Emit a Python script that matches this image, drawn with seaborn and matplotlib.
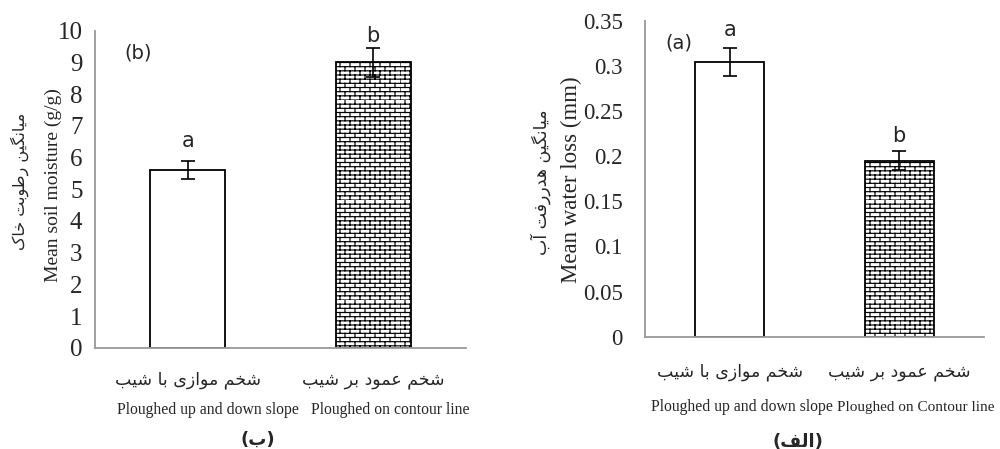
import warnings
warnings.filterwarnings("ignore")
import numpy as np
import pandas as pd
import matplotlib
matplotlib.use("Agg")
import matplotlib.pyplot as plt
import matplotlib.hatch as mhatch
from matplotlib.path import Path
import seaborn as sns

# ---------------- data ----------------
cat_fa = ["شخم موازی با شیب", "شخم عمود بر شیب"]
moist_vals = [5.6, 9.0]
moist_err = [0.28, 0.46]
moist_letters = ["a", "b"]
loss_vals = [0.304, 0.195]
loss_err = [0.0155, 0.0103]
loss_letters = ["a", "b"]
moist_ticks = [0, 1, 2, 3, 4, 5, 6, 7, 8, 9, 10]
loss_ticks = [0, 0.05, 0.1, 0.15, 0.2, 0.25, 0.3, 0.35]
moist_ylabel_en = "Mean soil moisture (g/g)"
moist_ylabel_fa = "میانگین رطوبت خاک"
loss_ylabel_en = "Mean water loss (mm)"
loss_ylabel_fa = "میانگین هدررفت آب"
en_left = ["Ploughed up and down slope", "Ploughed on contour line"]
en_right = ["Ploughed up and down slope", "Ploughed on Contour line"]
cap_left = "ب"
cap_right = "الف"

# ---------------- Persian shaping ----------------
FORMS = {  # iso, fin, ini, med
    "ا": ("\uFE8D", "\uFE8E", None, None),
    "آ": ("\uFE81", "\uFE82", None, None),
    "ب": ("\uFE8F", "\uFE90", "\uFE91", "\uFE92"),
    "ت": ("\uFE95", "\uFE96", "\uFE97", "\uFE98"),
    "خ": ("\uFEA5", "\uFEA6", "\uFEA7", "\uFEA8"),
    "د": ("\uFEA9", "\uFEAA", None, None),
    "ر": ("\uFEAD", "\uFEAE", None, None),
    "ز": ("\uFEAF", "\uFEB0", None, None),
    "ش": ("\uFEB5", "\uFEB6", "\uFEB7", "\uFEB8"),
    "ط": ("\uFEC1", "\uFEC2", "\uFEC3", "\uFEC4"),
    "ع": ("\uFEC9", "\uFECA", "\uFECB", "\uFECC"),
    "ف": ("\uFED1", "\uFED2", "\uFED3", "\uFED4"),
    "ل": ("\uFEDD", "\uFEDE", "\uFEDF", "\uFEE0"),
    "م": ("\uFEE1", "\uFEE2", "\uFEE3", "\uFEE4"),
    "ن": ("\uFEE5", "\uFEE6", "\uFEE7", "\uFEE8"),
    "ه": ("\uFEE9", "\uFEEA", "\uFEEB", "\uFEEC"),
    "و": ("\uFEED", "\uFEEE", None, None),
    "ی": ("\uFBFC", "\uFBFD", "\uFBFE", "\uFBFF"),
    "ک": ("\uFB8E", "\uFB8F", "\uFB90", "\uFB91"),
    "گ": ("\uFB92", "\uFB93", "\uFB94", "\uFB95"),
}


def dual(c):
    return c in FORMS and FORMS[c][2] is not None


def shape(s):
    out = []
    for i, c in enumerate(s):
        if c not in FORMS:
            out.append(c)
            continue
        prev = s[i - 1] if i > 0 else ""
        nxt = s[i + 1] if i + 1 < len(s) else ""
        jp = dual(prev)
        jn = dual(c) and nxt in FORMS
        iso, fin, ini, med = FORMS[c]
        if jp and jn:
            out.append(med)
        elif jp:
            out.append(fin)
        elif jn:
            out.append(ini)
        else:
            out.append(iso)
    return "".join(out[::-1])


# ---------------- brick hatch ----------------
class BrickHatch(mhatch.HatchPatternBase):
    def __init__(self, hatch, density):
        self.on = hatch.count("b") > 0
        self.rows = 24
        self.cols = 10
        if self.on:
            self.num_vertices = 2 * self.rows + 2 * self.rows * self.cols
        else:
            self.num_vertices = 0

    def set_vertices_and_codes(self, vertices, codes):
        h = 1.0 / self.rows
        w = 1.0 / self.cols
        k = 0
        for i in range(self.rows):
            y = i * h
            vertices[k] = (0.0, y); codes[k] = Path.MOVETO; k += 1
            vertices[k] = (1.0, y); codes[k] = Path.LINETO; k += 1
        for i in range(self.rows):
            y0 = i * h
            off = 0.5 * w if i % 2 else 0.0
            for j in range(self.cols):
                x = j * w + off
                vertices[k] = (x, y0); codes[k] = Path.MOVETO; k += 1
                vertices[k] = (x, y0 + h); codes[k] = Path.LINETO; k += 1


mhatch._hatch_types.append(BrickHatch)

# ---------------- style ----------------
sns.set_style("white")
plt.rcParams["hatch.linewidth"] = 0.85
plt.rcParams["font.family"] = ["Liberation Serif", "DejaVu Sans"]
FA = ["DejaVu Sans"]
SPINE = "#999999"

fig = plt.figure(figsize=(10, 4.49), dpi=100)
axL = fig.add_axes([0.095, 0.2256, 0.371, 0.706])
axR = fig.add_axes([0.645, 0.2501, 0.339, 0.7038])


def panel(ax, vals, errs, letters, ticks, ylim, tag, tagpos, letter_off,
          xpad, ysize):
    df = pd.DataFrame({"cat": [shape(c) for c in cat_fa], "val": vals})
    sns.barplot(data=df, x="cat", y="val", ax=ax, color="white",
                edgecolor="black", linewidth=1.3, width=0.405,
                errorbar=None)
    bars = ax.patches
    bars[1].set_hatch("b")
    ax.errorbar(x=range(len(vals)), y=vals, yerr=errs, fmt="none",
                ecolor="black", elinewidth=1.2, capsize=5, capthick=1.2,
                zorder=5)
    for i, (v, e, l) in enumerate(zip(vals, errs, letters)):
        ax.annotate(l, (i, v + e), xytext=(0, letter_off[i]),
                    textcoords="offset points", ha="center", va="baseline",
                    fontsize=15, family=["DejaVu Sans"])
    ax.text(tagpos[0], tagpos[1], tag, transform=ax.transAxes,
            fontsize=14, family=["DejaVu Sans"], ha="center", va="center")
    ax.set_xlim(-0.5, 1.5)
    ax.set_ylim(*ylim)
    ax.set_yticks(ticks)
    ax.set_yticklabels([f"{t:g}" for t in ticks])
    ax.set_xticks([-0.5, 0.5, 1.5], minor=True)
    ax.tick_params(axis="x", which="major", length=0, pad=xpad)
    ax.tick_params(axis="x", which="minor", direction="in", length=5.5,
                   width=1.2, color=SPINE)
    ax.tick_params(axis="y", direction="in", length=4.5, width=1.2,
                   color=SPINE, labelsize=ysize)
    for lab in ax.get_xticklabels():
        lab.set_family(FA)
        lab.set_fontsize(12.5)
    for s in ["top", "right"]:
        ax.spines[s].set_visible(False)
    for s in ["left", "bottom"]:
        ax.spines[s].set_color(SPINE)
        ax.spines[s].set_linewidth(1.3)
    ax.set_xlabel("")
    ax.set_ylabel("")


panel(axL, moist_vals, moist_err, moist_letters, moist_ticks, (0, 10),
      "(b)", (0.115, 0.93), [10, 4], 17, 18)
panel(axR, loss_vals, loss_err, loss_letters, loss_ticks, (0, 0.35),
      "(a)", (0.1, 0.93), [9, 7], 19, 16.5)
axL.tick_params(axis="y", pad=9)
axR.tick_params(axis="y", pad=16)

# y labels
fig.text(0.053, 0.588, moist_ylabel_en, rotation=90, ha="center",
         va="center", fontsize=14)
fig.text(0.020, 0.595, shape(moist_ylabel_fa), rotation=90, ha="center",
         va="center", fontsize=11.5, family=FA)
fig.text(0.571, 0.60, loss_ylabel_en, rotation=90, ha="center",
         va="center", fontsize=16.5)
fig.text(0.541, 0.595, shape(loss_ylabel_fa), rotation=90, ha="center",
         va="center", fontsize=12.5, family=FA)

# English category lines
fig.text(0.208, 1 - 410 / 449, en_left[0], ha="center", va="center",
         fontsize=11.3)
fig.text(0.390, 1 - 410 / 449, en_left[1], ha="center", va="center",
         fontsize=11.3)
fig.text(0.742, 1 - 407 / 449, en_right[0], ha="center", va="center",
         fontsize=11.3)
fig.text(0.837, 1 - 407 / 449, en_right[1], ha="left", va="center",
         fontsize=11.0)

# captions
fig.text(0.258, 1 - 440 / 449, "(" + shape(cap_left) + ")", ha="center",
         va="center", fontsize=13, family=FA, weight="bold")
fig.text(0.798, 1 - 442 / 449, "(" + shape(cap_right) + ")", ha="center",
         va="center", fontsize=13, family=FA, weight="bold")

fig.savefig("out.png", dpi=100)
